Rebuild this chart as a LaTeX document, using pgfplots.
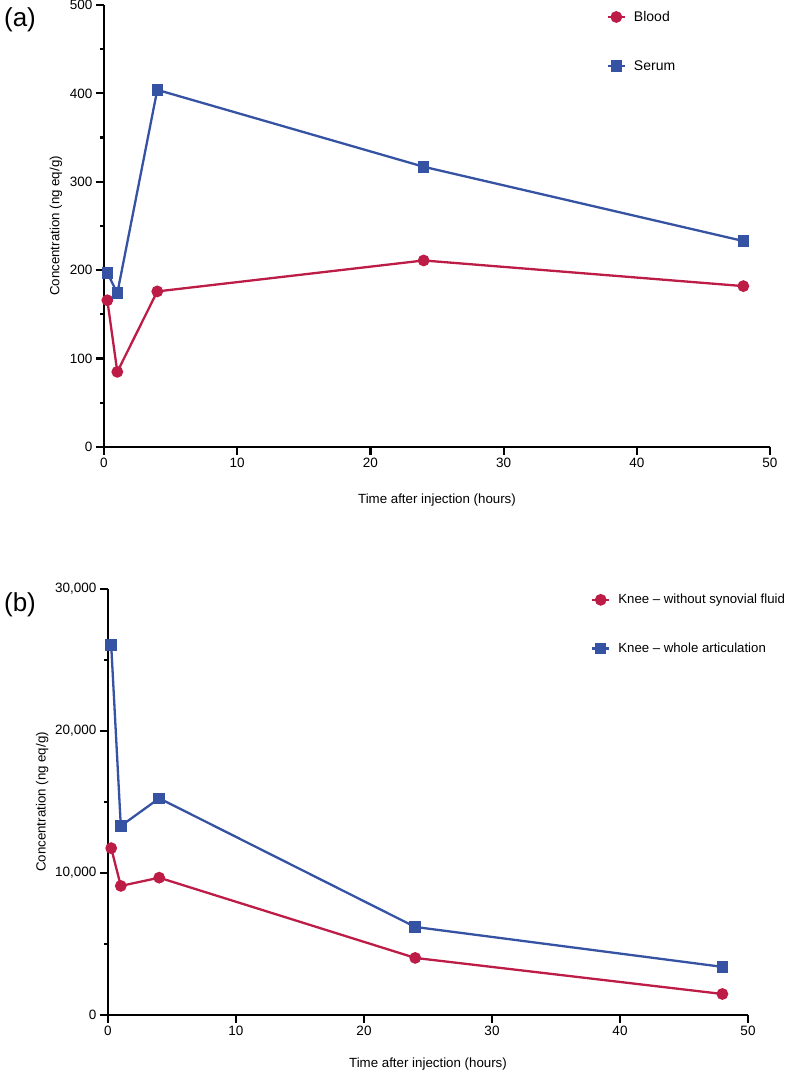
\documentclass[border=0pt]{standalone}
\usepackage{fontspec}
\setmainfont{Liberation Sans}
\usepackage{pgfplots}
\pgfplotsset{compat=1.18}

\definecolor{bloodred}{HTML}{BC1C45}
\definecolor{serumblue}{HTML}{3653A3}

\pgfplotsset{
  pkstyle/.style={
    scale only axis,
    axis lines*=left,
    axis line style={line width=2.5pt},
    tick align=outside,
    major tick length=8pt,
    minor tick length=4pt,
    every tick/.style={black, line width=2.2pt},
    xmin=0, xmax=50,
    xtick={0,10,20,30,40,50},
    minor y tick num=1,
    ymin=0,
    clip=false,
    /pgf/number format/assume math mode=true,
    /pgf/number format/1000 sep={,},
    scaled y ticks=false,
    ticklabel style={font=\fontsize{13.5}{16}\selectfont},
    label style={font=\fontsize{13.3}{16}\selectfont},
    legend style={draw=none, fill=none, anchor=north west, inner sep=0pt,
      row sep=37.5pt, nodes={inner sep=0pt}},
    legend cell align=left,
    legend image code/.code={
      \draw[mark repeat=2, mark phase=2, #1] plot coordinates {(0pt,0pt) (8.5pt,0pt) (17pt,0pt)};
      \path (25pt,0pt);
    },
    every axis plot/.append style={line width=2.3pt},
  },
  bloodplot/.style={color=bloodred, mark=*, mark size=4.7pt, mark options={solid}},
  serumplot/.style={color=serumblue, mark=square*, mark size=4.6pt, mark options={solid}},
}

\begin{document}
\begin{tikzpicture}[x=1pt,y=1pt]
\useasboundingbox (0,0) rectangle (787,1074);

% panel (a)
\begin{axis}[pkstyle,
  at={(104pt,627pt)}, anchor=south west,
  width=666pt, height=442pt,
  ymax=500,
  ytick={0,100,200,300,400,500},
  xlabel={Time after injection (hours)},
  ylabel={Concentration (ng eq/g)},
  xlabel style={at={(axis description cs:0.5,-0.12)}, anchor=center},
  ylabel style={at={(axis description cs:-0.072,0.5)}, anchor=center},
  legend style={at={(0.7545,0.9865)}, font=\fontsize{14}{16}\selectfont},
]
\addplot[bloodplot] coordinates {(0.25,166) (1,85) (4,176) (24,211) (48,182)};
\addlegendentry{Blood}
\addplot[serumplot] coordinates {(0.25,197) (1,174) (4,404) (24,317) (48,233)};
\addlegendentry{Serum}
\end{axis}
\node[font=\fontsize{26}{30}\selectfont] at (20,1054) {(a)};

% panel (b)
\begin{axis}[pkstyle,
  at={(108pt,59pt)}, anchor=south west,
  width=640pt, height=426pt,
  ymax=30000,
  ytick={0,10000,20000,30000},
  xlabel={Time after injection (hours)},
  ylabel={Concentration (ng eq/g)},
  xlabel style={at={(axis description cs:0.5,-0.115)}, anchor=center},
  ylabel style={at={(axis description cs:-0.103,0.5)}, anchor=center},
  legend style={at={(0.7545,0.988)}, font=\fontsize{13.2}{16}\selectfont},
]
\addplot[bloodplot] coordinates {(0.25,11750) (1,9090) (4,9670) (24,4020) (48,1480)};
\addlegendentry{Knee -- without synovial fluid}
\addplot[serumplot] coordinates {(0.25,26050) (1,13310) (4,15260) (24,6200) (48,3390)};
\addlegendentry{Knee -- whole articulation}
\end{axis}
\node[font=\fontsize{26}{30}\selectfont] at (20,469) {(b)};
\end{tikzpicture}
\end{document}
